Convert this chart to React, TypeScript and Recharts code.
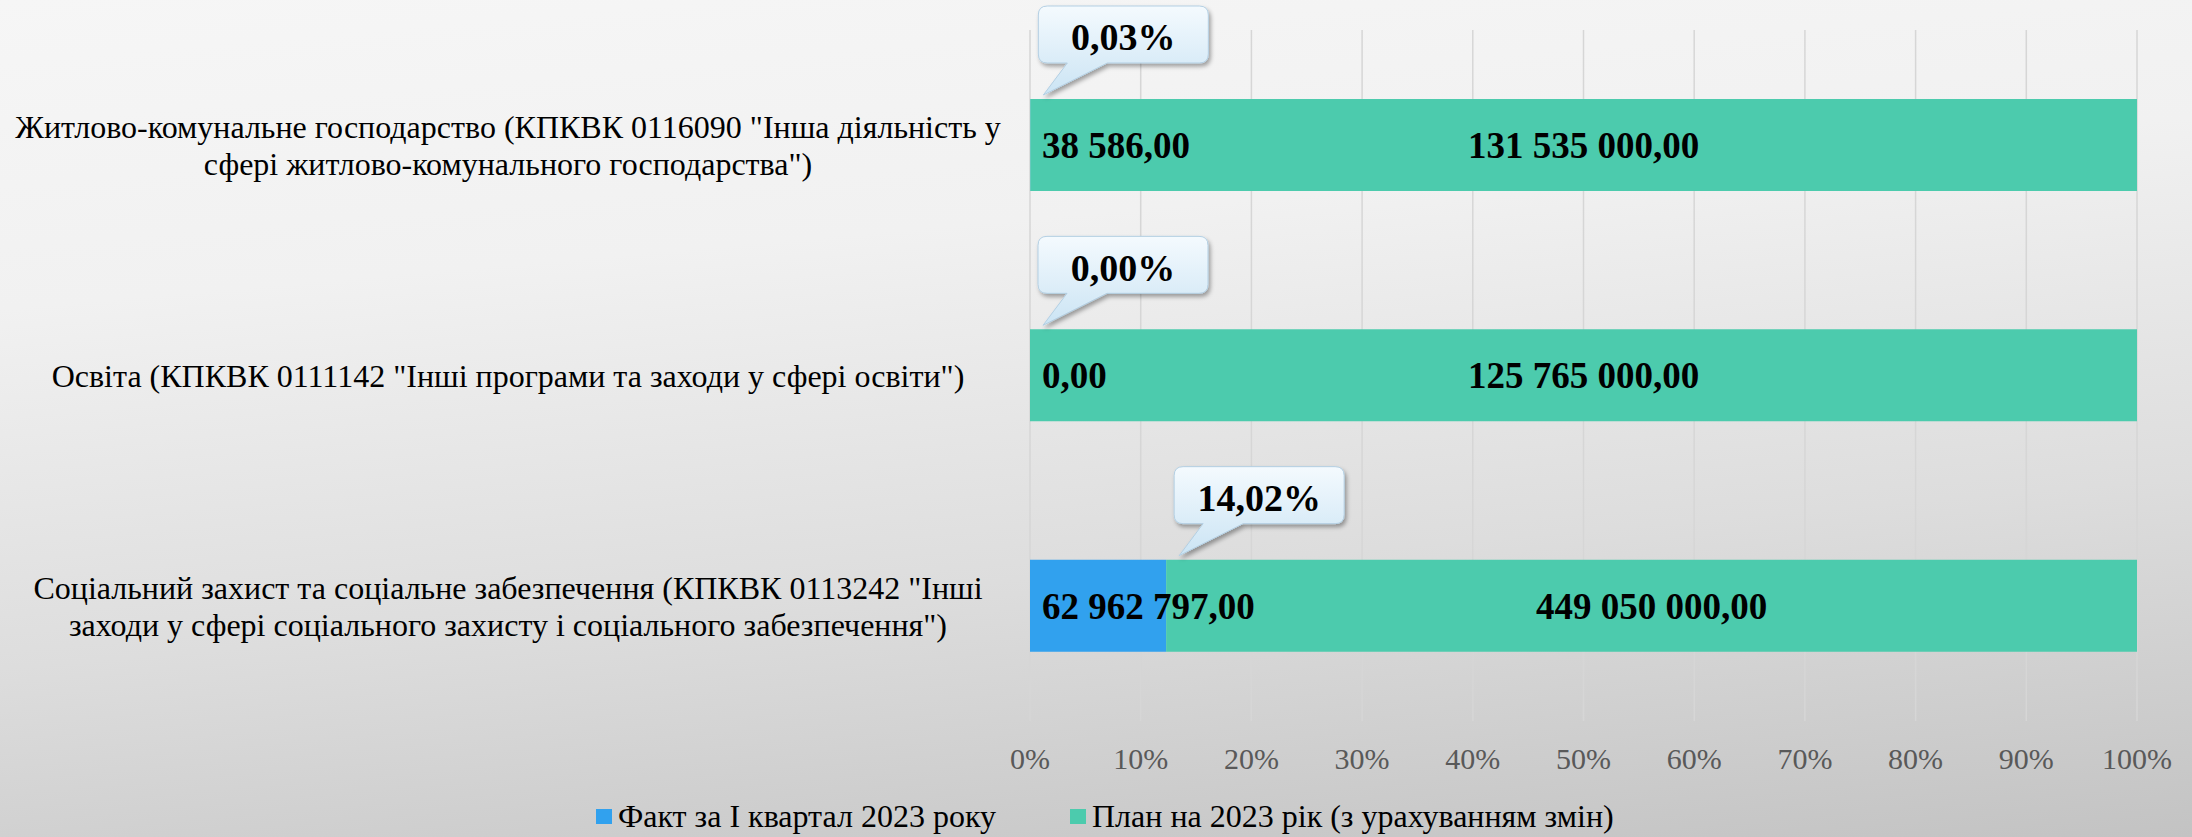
import React from "react";
import { BarChart, Bar, XAxis, YAxis, CartesianGrid, Legend, LabelList } from "recharts";

const categories = [
  'Житлово-комунальне господарство (КПКВК 0116090 "Інша діяльність у\nсфері житлово-комунального господарства")',
  'Освіта (КПКВК 0111142 "Інші програми та заходи у сфері освіти")',
  'Соціальний захист та соціальне забезпечення (КПКВК 0113242 "Інші\nзаходи у сфері соціального захисту і соціального забезпечення")',
];
const factValues = [38586, 0, 62962797];
const planValues = [131535000, 125765000, 449050000];
const completionPct = [0.03, 0.0, 14.02];
const xTicks = [0, 0.1, 0.2, 0.3, 0.4, 0.5, 0.6, 0.7, 0.8, 0.9, 1];
const factName = "Факт за І квартал 2023 року";
const planName = "План на 2023 рік (з урахуванням змін)";

const FACT_COLOR = "#31a1ee";
const PLAN_COLOR = "#4ccbad";
const FONT = "'Liberation Serif', 'Times New Roman', serif";

const data = categories.map((name, i) => ({
  name,
  fact: factValues[i],
  plan: planValues[i],
}));

const fmtMoney = (v: number) => {
  const [int, dec] = v.toFixed(2).split(".");
  return int.replace(/\B(?=(\d{3})+(?!\d))/g, " ") + "," + dec;
};

// the fact segment can be zero wide, so its labels hang off the plan segment,
// whose left edge is where the fact segment ends
const rowStart = (x: number, width: number, i: number) => {
  const share = planValues[i] / (planValues[i] + factValues[i]);
  return x + width - width / share;
};

const CategoryTick = (props: any) => {
  const { x, y, payload } = props;
  const lines = String(payload.value).split("\n");
  const lh = 37;
  const start = -((lines.length - 1) * lh) / 2;
  return (
    <text x={x - 514} y={y} textAnchor="middle" fontFamily={FONT} fontSize={32} fill="#000">
      {lines.map((ln, i) => (
        <tspan key={i} x={x - 514} y={y + start + i * lh} dy="0.35em">
          {ln}
        </tspan>
      ))}
    </text>
  );
};

const FactLabel = (props: any) => {
  const { x, y, width, height, index } = props;
  const left = rowStart(Number(x), Number(width), index);
  return (
    <text
      x={left + 12}
      y={Number(y) + Number(height) / 2}
      dy="0.35em"
      textAnchor="start"
      fontFamily={FONT}
      fontSize={37}
      fontWeight="bold"
      fill="#000"
    >
      {fmtMoney(factValues[index])}
    </text>
  );
};

const Callout = (props: any) => {
  const { x, y, index } = props;
  const left = Number(x) + 8;
  const top = Number(y) - 93;
  const w = 170;
  const h = 57;
  const r = 9;
  const tipX = left + 5;
  const tipY = Number(y) - 4;
  const b1 = left + 29;
  const b2 = left + 69;
  const d =
    `M${left + r},${top} H${left + w - r} Q${left + w},${top} ${left + w},${top + r} ` +
    `V${top + h - r} Q${left + w},${top + h} ${left + w - r},${top + h} H${b2} ` +
    `L${tipX},${tipY} L${b1},${top + h} H${left + r} Q${left},${top + h} ${left},${top + h - r} ` +
    `V${top + r} Q${left},${top} ${left + r},${top} Z`;
  const label = completionPct[index].toFixed(2).replace(".", ",") + "%";
  return (
    <g>
      <defs>
        <linearGradient id={`cf${index}`} x1="0" y1="0" x2="0" y2="1">
          <stop offset="0%" stopColor="#f4fafe" />
          <stop offset="100%" stopColor="#cbe4f4" />
        </linearGradient>
        <filter id={`cs${index}`} x="-20%" y="-20%" width="140%" height="160%">
          <feDropShadow dx="2" dy="3" stdDeviation="2" floodColor="#000" floodOpacity="0.35" />
        </filter>
      </defs>
      <path d={d} fill={`url(#cf${index})`} stroke="#b3cfe3" strokeWidth={1} filter={`url(#cs${index})`} />
      <text
        x={left + w / 2}
        y={top + 31}
        dy="0.35em"
        textAnchor="middle"
        fontFamily={FONT}
        fontSize={38}
        fontWeight="bold"
        fill="#000"
      >
        {label}
      </text>
    </g>
  );
};

const LegendBox = () => (
  <div style={{ position: "relative", height: 45, fontFamily: FONT, fontSize: 32, color: "#000" }}>
    {[
      { name: factName, color: FACT_COLOR, left: 596 },
      { name: planName, color: PLAN_COLOR, left: 1070 },
    ].map((it) => (
      <div key={it.name} style={{ position: "absolute", left: it.left, top: 0, whiteSpace: "nowrap" }}>
        <span style={{ position: "absolute", left: 0, top: 17, width: 16, height: 15, background: it.color }} />
        <span style={{ position: "absolute", left: 22, top: 8, lineHeight: "32px" }}>{it.name}</span>
      </div>
    ))}
  </div>
);

export default function App() {
  return (
    <div
      style={{
        position: "absolute",
        left: 0,
        top: 0,
        width: 2192,
        height: 837,
        overflow: "hidden",
        background: "linear-gradient(175deg, #f6f6f6 0%, #f1f1f1 30%, #dddddd 65%, #c3c3c3 100%)",
      }}
    >
      <BarChart
        width={2192}
        height={837}
        data={data}
        layout="vertical"
        stackOffset="expand"
        barSize={92}
        margin={{ top: 30, right: 55, bottom: 0, left: 0 }}
      >
        <CartesianGrid horizontal={false} stroke="#d6d6d6" strokeWidth={1.5} />
        <XAxis
          type="number"
          domain={[0, 1]}
          ticks={xTicks}
          tickFormatter={(v: number) => `${Math.round(v * 100)}%`}
          axisLine={false}
          tickLine={false}
          tickSize={0}
          tickMargin={27}
          height={71}
          tick={{ fill: "#595959", fontSize: 30, fontFamily: FONT }}
          interval={0}
        />
        <YAxis
          type="category"
          dataKey="name"
          width={1030}
          axisLine={false}
          tickLine={false}
          tick={<CategoryTick />}
          interval={0}
        />
        <Legend verticalAlign="bottom" content={() => <LegendBox />} />
        <Bar dataKey="fact" name={factName} stackId="a" fill={FACT_COLOR} isAnimationActive={false} />
        <Bar dataKey="plan" name={planName} stackId="a" fill={PLAN_COLOR} isAnimationActive={false}>
          <LabelList
            dataKey="plan"
            position="center"
            formatter={(v: any) => fmtMoney(Number(v))}
            style={{ fontFamily: FONT, fontSize: 37, fontWeight: "bold", fill: "#000" }}
          />
          <LabelList dataKey="fact" content={<FactLabel />} />
          <LabelList dataKey="fact" content={<Callout />} />
        </Bar>
      </BarChart>
    </div>
  );
}
